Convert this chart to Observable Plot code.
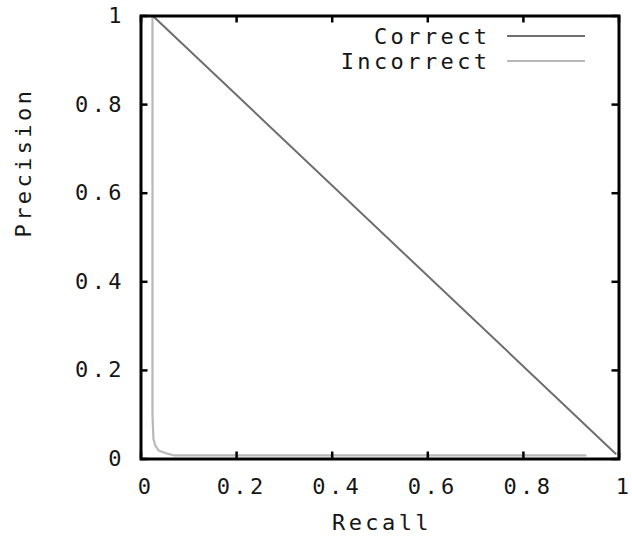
<!DOCTYPE html>
<html>
<head>
<meta charset="utf-8">
<script src="https://cdn.jsdelivr.net/npm/d3@7"></script>
<script src="https://cdn.jsdelivr.net/npm/@observablehq/plot@0.6"></script>
<style>
  html, body { margin: 0; padding: 0; background: #fff; }
</style>
</head>
<body>
<div id="chart"></div>
<script>
// Precision/recall curves for the two classes
const correctRecall = [0.025, 0.993];
const correctPrecision = [1.0, 0.012];

const incorrectRecall = [0.024, 0.024, 0.026, 0.03, 0.037, 0.055, 0.07, 0.93];
const incorrectPrecision = [1.0, 0.1, 0.045, 0.03, 0.019, 0.012, 0.008, 0.008];

const seriesNames = ["Correct", "Incorrect"];
const seriesColors = ["#6e6e6e", "#b8b8b8"];

const xTicks = [0, 0.2, 0.4, 0.6, 0.8, 1];
const xTickLabels = ["0", "0.2", "0.4", "0.6", "0.8", "1"];
const yTicks = [0, 0.2, 0.4, 0.6, 0.8, 1];
const yTickLabels = ["0", "0.2", "0.4", "0.6", "0.8", "1"];

const xTitle = "Recall";
const yTitle = "Precision";

const correct = correctRecall.map((r, i) => ({recall: r, precision: correctPrecision[i]}));
const incorrect = incorrectRecall.map((r, i) => ({recall: r, precision: incorrectPrecision[i]}));

const W = 632, H = 536;
const mL = 140.5, mR = 13.5, mT = 15.5, mB = 77.5;
const plotW = W - mL - mR, plotH = H - mT - mB;
const tickLen = 7;
const font = "'DejaVu Sans Mono', 'Liberation Mono', monospace";
const fs = 22, ls = 3.4;
const ink = "#161616";

const xLab = new Map(xTicks.map((t, i) => [t, xTickLabels[i]]));
const yLab = new Map(yTicks.map((t, i) => [t, yTickLabels[i]]));

const svg = Plot.plot({
  width: W,
  height: H,
  marginLeft: mL,
  marginRight: mR,
  marginTop: mT,
  marginBottom: mB,
  style: {fontFamily: font, fontSize: fs + "px", letterSpacing: ls + "px", color: ink, background: "#fff"},
  x: {domain: [0, 1]},
  y: {domain: [0, 1]},
  marks: [
    Plot.line(incorrect, {x: "recall", y: "precision", stroke: seriesColors[1], strokeWidth: 2.2}),
    Plot.line(correct, {x: "recall", y: "precision", stroke: seriesColors[0], strokeWidth: 2}),
    Plot.frame({stroke: "black", strokeWidth: 3}),
    // inward ticks on all four sides
    Plot.tickX(xTicks, {x: d => d, insetTop: plotH - tickLen, stroke: "black", strokeWidth: 2.5}),
    Plot.tickX(xTicks, {x: d => d, insetBottom: plotH - tickLen, stroke: "black", strokeWidth: 2.5}),
    Plot.tickY(yTicks, {y: d => d, insetRight: plotW - tickLen, stroke: "black", strokeWidth: 2.5}),
    Plot.tickY(yTicks, {y: d => d, insetLeft: plotW - tickLen, stroke: "black", strokeWidth: 2.5}),
    Plot.axisX(xTicks, {tickSize: 0, tickPadding: 19, tickFormat: d => xLab.get(d), label: null, fontSize: fs, dx: 5, fill: ink}),
    Plot.axisY(yTicks, {tickSize: 0, tickPadding: 16, tickFormat: d => yLab.get(d), label: null, fontSize: fs, fill: ink}),
    Plot.text([xTitle], {frameAnchor: "bottom", dy: 64, dx: 2, lineAnchor: "middle", fontSize: fs, fill: ink}),
    Plot.text([yTitle], {frameAnchor: "left", rotate: -90, dx: -117, dy: 0, lineAnchor: "middle", fontSize: fs, fill: ink})
  ]
});

// key in the top-right corner of the frame
const key = d3.select(svg).append("g");
seriesNames.forEach((name, i) => {
  const yy = 36 + i * 25;
  key.append("text")
    .attr("x", 490.5).attr("y", yy).attr("dy", "0.35em")
    .attr("text-anchor", "end")
    .attr("fill", ink)
    .attr("font-size", fs)
    .text(name);
  key.append("line")
    .attr("x1", 507).attr("x2", 585).attr("y1", yy).attr("y2", yy)
    .attr("stroke", seriesColors[i]).attr("stroke-width", 2);
});

document.getElementById("chart").appendChild(svg);
</script>
</body>
</html>
